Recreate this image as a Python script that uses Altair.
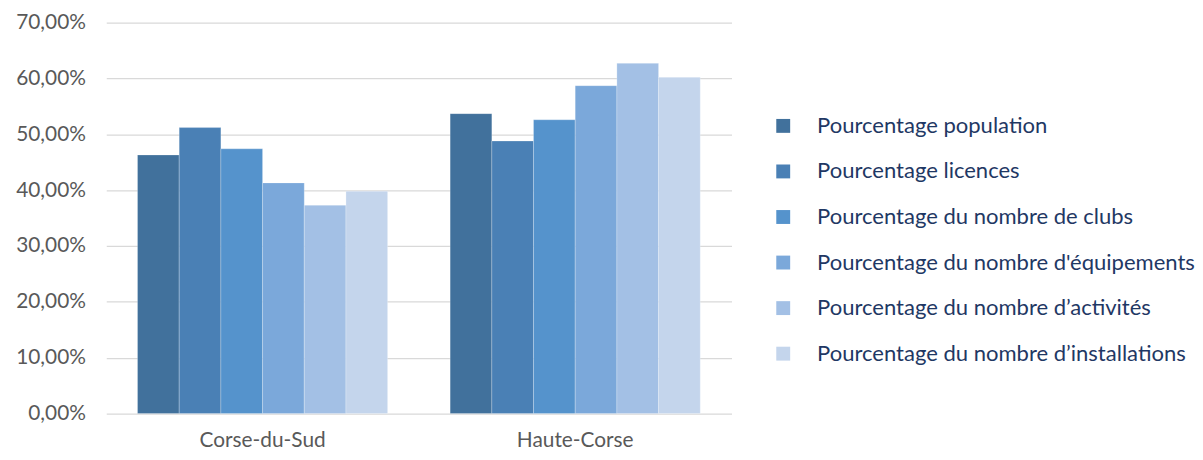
import altair as alt
import pandas as pd

departements = ["Corse-du-Sud", "Haute-Corse"]
series = [
    "Pourcentage population",
    "Pourcentage licences",
    "Pourcentage du nombre de clubs",
    "Pourcentage du nombre d'équipements",
    "Pourcentage du nombre d\u2019activités",
    "Pourcentage du nombre d\u2019installations",
]
corse_du_sud = [0.463, 0.512, 0.474, 0.413, 0.373, 0.398]
haute_corse = [0.537, 0.488, 0.526, 0.587, 0.627, 0.602]
colors = ["#41719C", "#4A80B5", "#5593CC", "#7BA8DA", "#A3C0E5", "#C4D5EC"]

rows = []
for i, s in enumerate(series):
    rows.append({"dep": departements[0], "serie": s, "order": i, "val": corse_du_sud[i]})
    rows.append({"dep": departements[1], "serie": s, "order": i, "val": haute_corse[i]})
df = pd.DataFrame(rows)

FONT = "Lato"

chart = alt.Chart(df).mark_bar(stroke="white", strokeWidth=0.4, strokeOpacity=0.6).encode(
    x=alt.X("dep:N", sort=departements, title=None,
            scale=alt.Scale(paddingInner=0, paddingOuter=0),
            axis=alt.Axis(labelAngle=0, labelFontSize=21, labelColor="#595959",
                          labelFont=FONT, ticks=False, domain=False, labelPadding=16)),
    xOffset=alt.XOffset("serie:N", sort=series,
                        scale=alt.Scale(paddingInner=0, paddingOuter=0.75)),
    y=alt.Y("val:Q", title=None,
            scale=alt.Scale(domain=[0, 0.7], nice=False),
            axis=alt.Axis(values=[0, 0.1, 0.2, 0.3, 0.4, 0.5, 0.6, 0.7],
                          labelExpr="replace(format(datum.value, '.2%'), '.', ',')",
                          labelFontSize=21, labelColor="#595959", labelFont=FONT,
                          ticks=False, domain=False, labelPadding=21,
                          gridColor="#D9D9D9", gridWidth=1.3)),
    color=alt.Color("serie:N", sort=series,
                    scale=alt.Scale(domain=series, range=colors),
                    legend=alt.Legend(title=None, orient="none", legendX=671, legendY=93,
                                      symbolType="square", symbolSize=196,
                                      symbolStrokeWidth=0, labelFontSize=22.2,
                                      labelFont=FONT, labelColor="#1F3864",
                                      labelLimit=500, rowPadding=22.9, labelOffset=23,
                                      symbolOpacity=1)),
).properties(
    width=630, height=394,
    padding={"left": 7, "top": 2, "right": 0, "bottom": 0},
).configure_view(stroke=None)

chart.save("out.html", embed_options={"renderer": "svg", "actions": False})
